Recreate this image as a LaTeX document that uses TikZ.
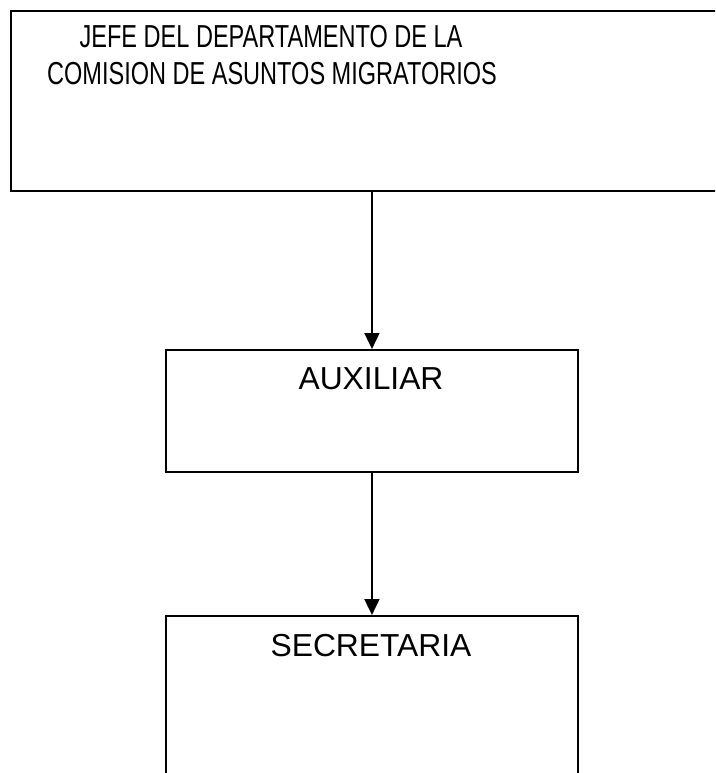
\documentclass[tikz,border=0pt]{standalone}
\usepackage{fontspec}
\setmainfont{Liberation Sans}
\newfontfamily\jefefont[FakeStretch=0.74]{Liberation Sans}
\usetikzlibrary{arrows.meta}
\tikzset{
  orgbox/.style={draw=black, line width=1.9pt, rectangle, inner sep=0pt, anchor=north west},
  boxtext/.style={inner sep=0pt, anchor=base, font=\fontsize{31.8}{37}\selectfont},
  link/.style={line width=1.9pt, -{Triangle[width=15pt,length=16pt]}}
}
\begin{document}
\begin{tikzpicture}[x=1pt,y=-1pt]
\useasboundingbox (0,0) rectangle (715,773);
\clip (0,0) rectangle (715,773);
\node[orgbox, minimum width=730pt, minimum height=180pt] (jefe) at (10,10) {};
\node[orgbox, minimum width=412pt, minimum height=122pt] (aux) at (165,349) {};
\node[orgbox, minimum width=412pt, minimum height=200pt] (sec) at (165,615) {};
\node[boxtext, font=\jefefont\fontsize{31.8}{37}\selectfont] (jefeA) at (271,48) {JEFE DEL DEPARTAMENTO DE LA};
\node[boxtext, font=\jefefont\fontsize{31.8}{37}\selectfont] (jefeB) at (272,85) {COMISION DE ASUNTOS MIGRATORIOS};
\node[boxtext] (auxt) at (371,389) {AUXILIAR};
\node[boxtext] (sect) at (371,656) {SECRETARIA};
\draw[link] (jefe.south -| aux.north) -- (aux.north);
\draw[link] (aux.south) -- (sec.north);
\end{tikzpicture}
\end{document}
